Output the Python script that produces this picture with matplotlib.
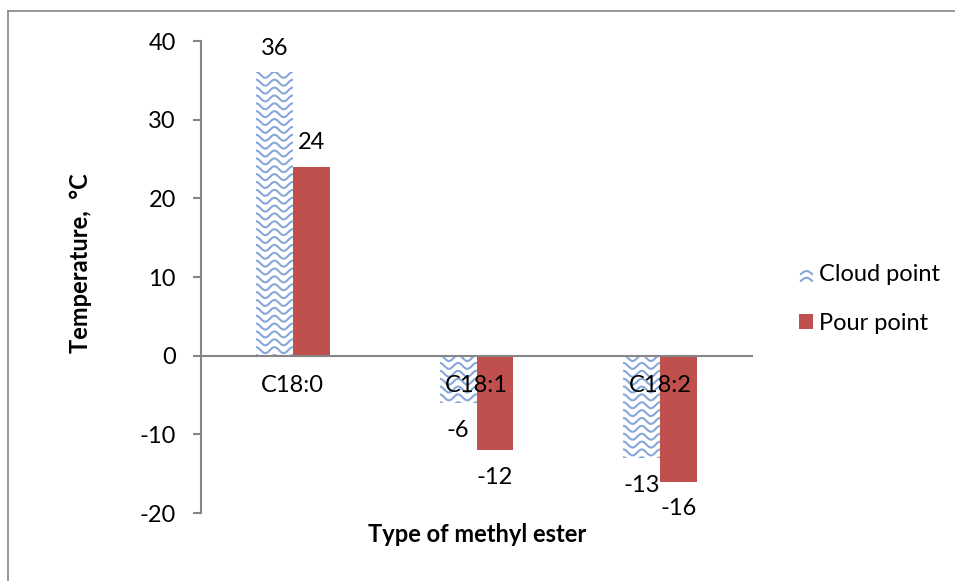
import numpy as np
import matplotlib.pyplot as plt
from matplotlib.lines import Line2D
from matplotlib.patches import Patch
from matplotlib.legend_handler import HandlerBase

plt.rcParams['font.family'] = ['Lato', 'DejaVu Sans']
plt.rcParams['axes.unicode_minus'] = False

# cold flow properties of the methyl esters
esters = ['C18:0', 'C18:1', 'C18:2']
cloud_point = [36, -6, -13]
pour_point = [24, -12, -16]

wave_color = '#86A8D8'
pour_color = '#C0504D'
axis_gray = '#868686'
fs = 17


def add_waves(ax, patch, period=0.1, amp=0.38, step=1.0):
    '''Fill a bar with rows of little sine waves, clipped to the bar'''
    x0, y0 = patch.get_x(), patch.get_y()
    w, h = patch.get_width(), patch.get_height()
    lo, hi = min(y0, y0 + h), max(y0, y0 + h)
    xs = np.linspace(x0 - period, x0 + w + period, 80)
    for yc in np.arange(hi - 0.3, lo - 1, -step):
        ys = yc + amp * np.cos(2 * np.pi * (xs - x0) / period)
        ln, = ax.plot(xs, ys, color=wave_color, lw=1.5, solid_capstyle='butt')
        ln.set_clip_path(patch)


class WaveHandler(HandlerBase):
    def create_artists(self, legend, orig_handle, xdescent, ydescent,
                       width, height, fontsize, trans):
        arts = []
        xs = np.linspace(0, 8, 20)
        for k in range(2):
            ys = height * (0.45 - 0.45 * k) + 2.2 * np.abs(np.sin(np.pi * xs / 8))
            ln = Line2D(xs + width - 9, ys, color=wave_color, lw=1.5, transform=trans)
            arts.append(ln)
        return arts


fig = plt.figure(figsize=(9.55, 5.81), dpi=100)
ax = fig.add_axes([201 / 955, 1 - 513 / 581, 551 / 955, 472 / 581])

x = np.arange(len(esters))
w = 0.2
cloud_bars = ax.bar(x - w / 2, cloud_point, w, color='white', edgecolor='none', zorder=2)
pour_bars = ax.bar(x + w / 2, pour_point, w, color=pour_color, edgecolor='none', zorder=2)
for p in cloud_bars:
    add_waves(ax, p)

# value labels above/below the bar ends
for bars, vals in [(cloud_bars, cloud_point), (pour_bars, pour_point)]:
    for p, v in zip(bars, vals):
        xc = p.get_x() + p.get_width() / 2
        if v >= 0:
            ax.annotate(str(v), (xc, v), xytext=(0, 10), textcoords='offset points',
                        ha='center', va='bottom', size=fs)
        else:
            ax.annotate(str(v), (xc, v), xytext=(0, -12), textcoords='offset points',
                        ha='center', va='top', size=fs)

ax.set_xlim(-0.5, 2.5)
ax.set_ylim(-20, 40)
ax.set_yticks([-20, -10, 0, 10, 20, 30, 40])
ax.set_xticks(x, esters)

for s in ['top', 'right']:
    ax.spines[s].set_visible(False)
ax.spines['bottom'].set_position(('data', 0))
ax.spines['bottom'].set_color(axis_gray)
ax.spines['bottom'].set_linewidth(1.5)
ax.spines['bottom'].set_zorder(3)
ax.spines['left'].set_color(axis_gray)
ax.spines['left'].set_linewidth(1.5)
ax.xaxis.set_zorder(4)
ax.tick_params(axis='x', length=0, pad=14, labelsize=fs)
ax.tick_params(axis='y', length=6, width=1.5, color=axis_gray, pad=12, labelsize=fs)

fig.text(80 / 955, 1 - 263 / 581, 'Temperature,  °C', rotation=90, ha='center', va='center',
         size=fs, weight='bold')
fig.text(477 / 955, 1 - 535 / 581, 'Type of methyl ester', ha='center', va='center',
         size=fs, weight='bold')

handles = [Patch(facecolor='white', label='Cloud point'),
           Patch(facecolor=pour_color, label='Pour point')]
fig.legend(handles=handles, handler_map={handles[0]: WaveHandler()},
           loc='center left', bbox_to_anchor=(778 / 955, 1 - 299 / 581),
           frameon=False, fontsize=fs, handlelength=0.6, handleheight=0.6,
           handletextpad=0.25, labelspacing=1.2)

# chart area outline
fig.add_artist(Line2D([8 / 955, 8 / 955], [0, 1 - 11 / 581], color=axis_gray, lw=1.2))
fig.add_artist(Line2D([8 / 955, 1], [1 - 11 / 581, 1 - 11 / 581], color=axis_gray, lw=1.2))

fig.savefig('out.png', dpi=100)
